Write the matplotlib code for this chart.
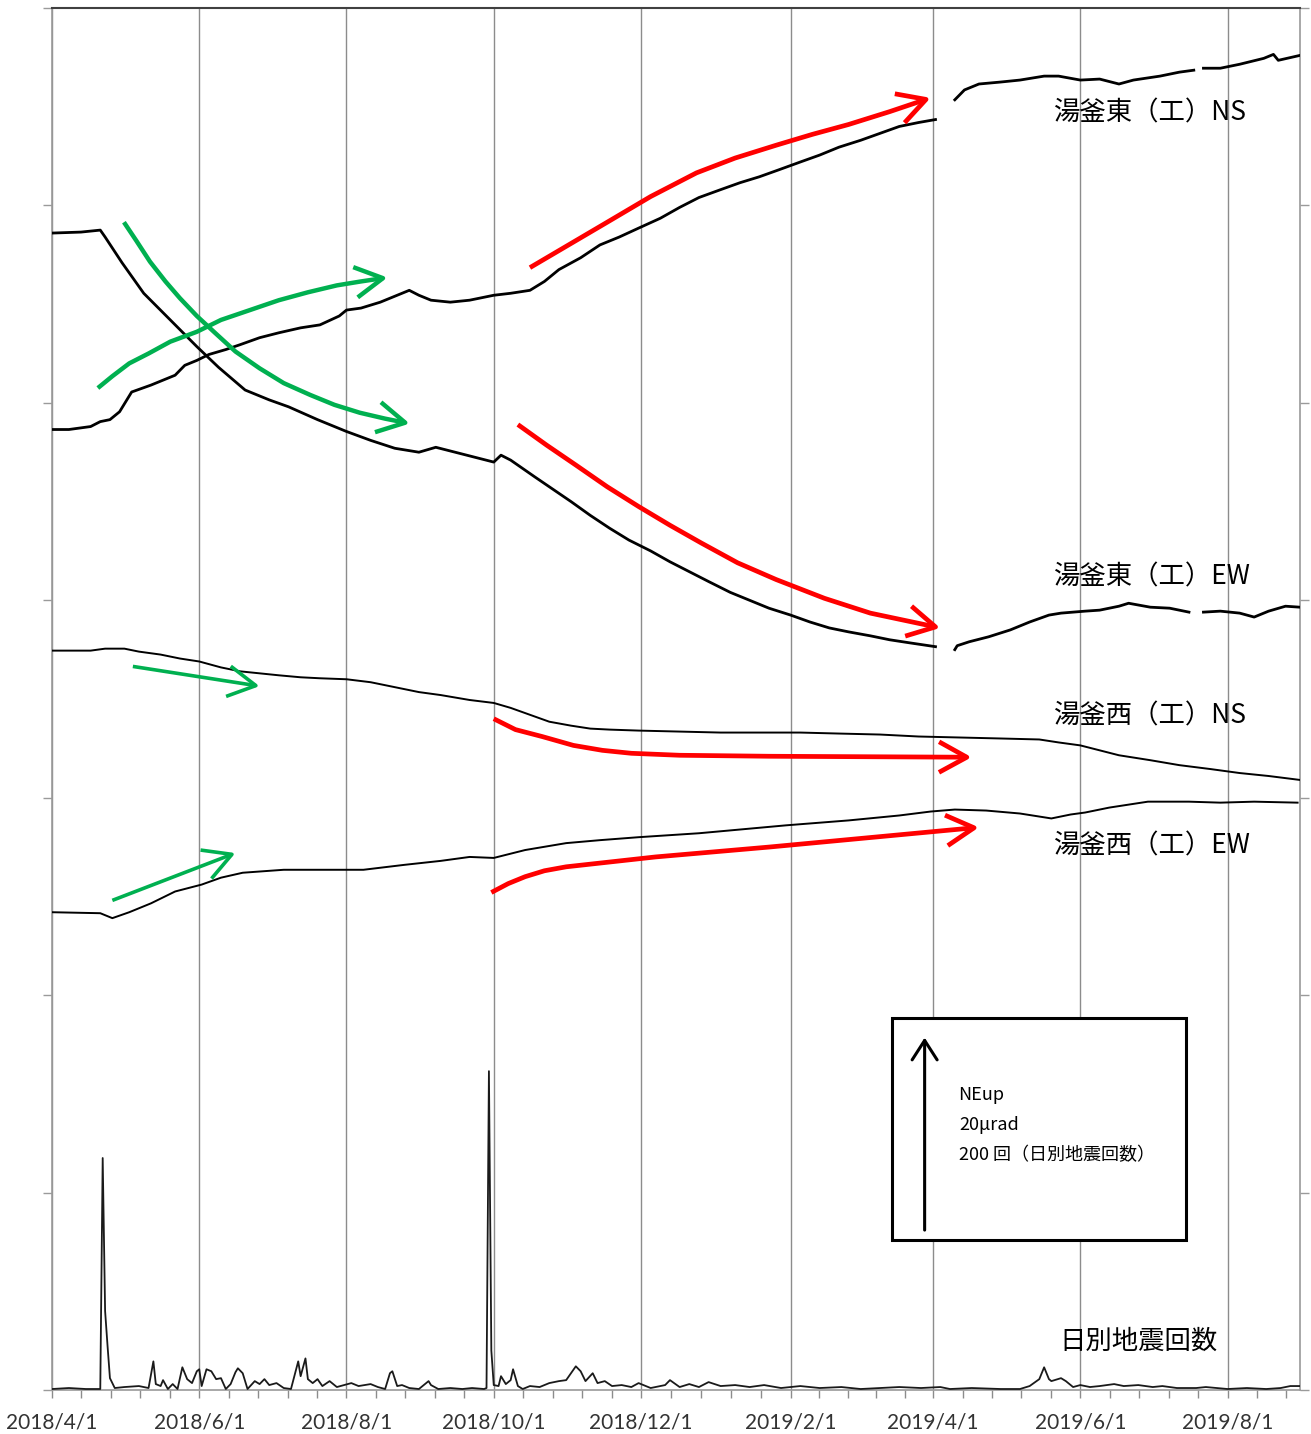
"""
Tilt records at Yugama (east / west stations, NS & EW components) with the
daily earthquake count underneath, April 2018 - August 2019.

Vertical scale: one gridline step = 20 micro-rad = 200 earthquakes / day.
Traces carry arbitrary offsets so they stack on one panel.
"""

import datetime as dt

import numpy as np
import matplotlib
matplotlib.use("Agg")
import matplotlib.pyplot as plt
import matplotlib.dates as mdates
from matplotlib.patches import Rectangle, FancyArrowPatch
from matplotlib.path import Path

plt.rcParams["font.family"] = ["Noto Sans CJK JP", "DejaVu Sans"]

START = dt.datetime(2018, 4, 1)
END = dt.datetime(2019, 8, 31)
NAN = np.nan

RED = "#ff0000"
GREEN = "#00b050"

# ──────────────────────────────────────────────────────────────────
# Data  (x = days since 2018/4/1, y = tilt in micro-rad, offset)
# ──────────────────────────────────────────────────────────────────

TICK_LABELS = ["2018/4/1", "2018/6/1", "2018/8/1", "2018/10/1", "2018/12/1",
               "2019/2/1", "2019/4/1", "2019/6/1", "2019/8/1"]

EAST_NS_DAYS = [0, 7, 16, 20, 24, 28, 33, 41, 51, 55, 60, 65, 72, 78, 86, 94,
                103, 111, 119, 122, 128, 136, 142, 148, 152, 157, 165, 173, 183,
                190, 198, 204, 210, 219, 227, 235, 243, 252, 260, 268, 277, 285,
                293, 301, 310, 318, 326, 335, 343, 351, 359, 366, 370,
                374, 378, 384, 393, 401, 411, 417, 426, 434, 442, 448, 459, 467,
                473, 475, 477, 484, 492, 502, 506, 508, 517]
EAST_NS_VALS = [97.3, 97.3, 97.6, 98.1, 98.3, 99.1, 101.1, 101.8, 102.8, 103.8,
                104.3, 104.9, 105.4, 105.9, 106.6, 107.1, 107.6, 107.9, 108.8,
                109.4, 109.6, 110.2, 110.8, 111.4, 110.9, 110.4, 110.2, 110.4,
                110.9, 111.1, 111.4, 112.3, 113.5, 114.7, 116.0, 116.8, 117.7,
                118.7, 119.8, 120.8, 121.6, 122.3, 122.9, 123.6, 124.4, 125.1,
                125.9, 126.6, 127.3, 128.0, 128.4, 128.7, NAN,
                130.7, 131.7, 132.3, 132.5, 132.7, 133.1, 133.1, 132.7, 132.8,
                132.3, 132.7, 133.1, 133.5, 133.7, NAN, 133.9, 133.9, 134.3,
                134.9, 135.3, 134.7, 135.2]

EAST_EW_DAYS = [0, 12, 20, 22, 29, 38, 49, 60, 69, 80, 90, 98, 110, 122, 132,
                142, 152, 159, 167, 175, 183, 186, 190, 200, 206, 215, 223, 231,
                239, 248, 256, 264, 272, 281, 289, 297, 306, 314, 322, 330, 339,
                347, 355, 366, 370,
                374, 375, 380, 388, 397, 405, 413, 418, 428, 434, 442, 446, 455,
                463, 471, 475, 477, 484, 492, 498, 504, 511, 517]
EAST_EW_VALS = [117.2, 117.3, 117.5, 116.8, 114.2, 111.1, 108.4, 105.7, 103.6,
                101.3, 100.3, 99.6, 98.3, 97.1, 96.2, 95.4, 95.0, 95.5, 95.0,
                94.5, 94.0, 94.7, 94.2, 92.5, 91.5, 90.0, 88.6, 87.3, 86.1, 85.0,
                83.9, 82.9, 81.9, 80.8, 80.0, 79.2, 78.5, 77.8, 77.2, 76.8, 76.4,
                76.0, 75.7, 75.3, NAN,
                75.0, 75.4, 75.8, 76.3, 77.0, 77.8, 78.5, 78.7, 78.9, 79.0, 79.4,
                79.7, 79.3, 79.2, 78.8, NAN, 78.8, 78.9, 78.7, 78.3, 78.9, 79.4,
                79.3]

WEST_NS_DAYS = [0, 16, 22, 30, 36, 45, 53, 61, 70, 78, 86, 94, 103, 111, 122,
                132, 142, 152, 161, 173, 183, 190, 198, 206, 215, 223, 231, 243,
                260, 277, 310, 326, 343, 359, 376, 393, 409, 417, 426, 434, 442,
                455, 467, 480, 492, 504, 517]
WEST_NS_VALS = [74.9, 74.9, 75.1, 75.1, 74.8, 74.5, 74.1, 73.8, 73.2, 72.8,
                72.6, 72.4, 72.2, 72.1, 72.0, 71.7, 71.2, 70.7, 70.4, 69.9, 69.6,
                69.1, 68.4, 67.7, 67.3, 67.0, 66.9, 66.8, 66.7, 66.6, 66.6, 66.5,
                66.4, 66.2, 66.1, 66.0, 65.9, 65.6, 65.3, 64.8, 64.3, 63.8, 63.3,
                62.9, 62.5, 62.2, 61.8]

WEST_EW_DAYS = [0, 20, 25, 32, 41, 51, 62, 70, 79, 96, 129, 146, 161, 173, 183,
                196, 213, 227, 243, 268, 304, 330, 351, 364, 374, 387, 401, 414,
                422, 428, 438, 454, 471, 484, 498, 516]
WEST_EW_VALS = [48.4, 48.3, 47.8, 48.4, 49.3, 50.5, 51.2, 51.9, 52.4, 52.7,
                52.7, 53.2, 53.6, 54.0, 53.9, 54.7, 55.4, 55.7, 56.0, 56.4, 57.2,
                57.7, 58.2, 58.6, 58.8, 58.7, 58.4, 57.9, 58.3, 58.5, 59.0, 59.6,
                59.6, 59.5, 59.6, 59.5]

# daily earthquake count (events / day)
QUAKE_DAYS = [0, 7, 14, 19, 20, 21, 22, 23, 24, 26, 30, 36, 40, 42, 43, 45, 46,
              48, 50, 52, 54, 56, 58, 60, 61, 62, 64, 66, 68, 70, 72, 74, 76,
              77, 79, 81, 84, 86, 88, 90, 93, 96, 99, 102, 103, 105, 106, 108,
              110, 112, 115, 118, 121, 124, 127, 132, 135, 138, 140, 141, 143,
              145, 148, 152, 156, 157, 160, 165, 170, 174, 179, 180, 181, 182,
              183, 185, 186, 188, 190, 191, 193, 195, 198, 202, 206, 210, 213,
              217, 219, 221, 224, 226, 229, 232, 236, 240, 243, 248, 254, 256,
              260, 264, 268, 272, 277, 283, 289, 295, 302, 310, 318, 327, 335,
              343, 351, 360, 368, 372, 381, 393, 401, 405, 409, 411, 413, 414,
              418, 420, 423, 426, 430, 434, 440, 444, 450, 456, 460, 466, 474,
              478, 487, 495, 503, 509, 513, 517]
QUAKE_COUNTS = [1, 2, 1, 1, 1, 235, 80, 45, 12, 2, 3, 4, 2, 29, 6, 4, 10,
                1, 6, 1, 23, 11, 7, 19, 21, 4, 21, 19, 11, 12, 1, 6, 18,
                22, 17, 1, 9, 6, 11, 5, 7, 2, 1, 29, 14, 32, 11, 7,
                11, 4, 9, 3, 5, 7, 4, 6, 3, 1, 17, 19, 4,
                5, 2, 1, 9, 5, 1, 2, 1, 2, 1, 2, 323, 40,
                5, 4, 14, 6, 10, 21, 4, 1, 4, 3, 7, 9, 10,
                24, 19, 9, 17, 7, 9, 4, 5, 3, 7, 2, 5, 10,
                3, 6, 3, 8, 4, 5, 3, 5, 2, 4, 2, 3, 1,
                2, 3, 2, 3, 1, 2, 1, 1, 4, 11, 23, 11, 9,
                12, 9, 3, 5, 3, 4, 6, 4, 5, 3, 4, 2, 2,
                3, 1, 2, 1, 2, 4, 4]

# hand-drawn trend arrows: (day, value) waypoints, head at the last point
ARROW_GREEN_EAST_NS = [(19, 101.5), (25, 102.7), (32, 104.0), (40, 105.0),
                       (49, 106.2), (60, 107.2), (70, 108.4), (82, 109.4),
                       (94, 110.4), (106, 111.2), (118, 111.9), (128, 112.3),
                       (139, 112.7)]
ARROW_GREEN_EAST_EW = [(29.8, 118.3), (35, 116.4), (40.6, 114.3), (47, 112.3),
                       (53, 110.6), (60, 108.8), (67.5, 107.1), (76, 105.2),
                       (86, 103.5), (96, 102.0), (107, 100.8), (117, 99.8),
                       (127.5, 99.0), (138, 98.4), (148.2, 97.9)]
ARROW_GREEN_WEST_NS = [(33.5, 73.3), (86, 71.3)]
ARROW_GREEN_WEST_EW = [(25, 49.6), (76, 54.4)]
ARROW_RED_EAST_NS = [(198, 113.7), (214, 116.0), (230, 118.3), (248, 120.9),
                     (267, 123.3), (283, 124.8), (300, 126.1), (315, 127.2),
                     (330, 128.2), (347, 129.5), (364, 130.9)]
ARROW_RED_EAST_EW = [(193, 97.8), (205, 95.7), (217, 93.7), (230, 91.5),
                     (243, 89.5), (256, 87.6), (269, 85.8), (284, 83.8),
                     (300, 82.1), (320, 80.2), (339, 78.7), (368, 77.2)]
ARROW_RED_WEST_NS = [(183, 68.0), (192, 66.9), (203, 66.2), (216, 65.3),
                     (228, 64.8), (240, 64.5), (260, 64.3), (297, 64.2),
                     (381, 64.1)]
ARROW_RED_WEST_EW = [(182, 50.4), (189, 51.3), (196, 52.0), (204, 52.6),
                     (213, 53.0), (250, 54.0), (297, 55.0), (384, 57.0)]

SCALE_ARROW_DAY = 361.5
SCALE_ARROW = (16.2, 35.7)   # 20 micro-rad / 200 events


# ──────────────────────────────────────────────────────────────────
# Helpers
# ──────────────────────────────────────────────────────────────────

T0 = mdates.date2num(START)


def to_num(days):
    return T0 + np.asarray(days, dtype=float)


def hand_arrow(ax, pts, color, lw):
    xy = [(T0 + d, v) for d, v in pts]
    path = Path(xy, [Path.MOVETO] + [Path.LINETO] * (len(xy) - 1))
    arrow = FancyArrowPatch(path=path, arrowstyle="->,head_length=1.0,head_width=0.55",
                            mutation_scale=20, color=color, lw=lw,
                            joinstyle="round", capstyle="butt", zorder=5)
    ax.add_patch(arrow)


# ──────────────────────────────────────────────────────────────────
# Figure
# ──────────────────────────────────────────────────────────────────

fig = plt.figure(figsize=(13.11, 14.34), dpi=100)
ax = fig.add_axes([52 / 1311, 44 / 1434, 1248 / 1311, 1382 / 1434])

ax.plot(to_num(EAST_NS_DAYS), EAST_NS_VALS, color="black", lw=2.0, zorder=3)
ax.plot(to_num(EAST_EW_DAYS), EAST_EW_VALS, color="black", lw=2.0, zorder=3)
ax.plot(to_num(WEST_NS_DAYS), WEST_NS_VALS, color="black", lw=1.4, zorder=3)
ax.plot(to_num(WEST_EW_DAYS), WEST_EW_VALS, color="black", lw=1.4, zorder=3)
ax.plot(to_num(QUAKE_DAYS), np.array(QUAKE_COUNTS) / 10.0, color="#1a1a1a",
        lw=1.3, zorder=3)

for pts in (ARROW_GREEN_EAST_NS, ARROW_GREEN_EAST_EW):
    hand_arrow(ax, pts, GREEN, 3.2)
for pts in (ARROW_GREEN_WEST_NS, ARROW_GREEN_WEST_EW):
    hand_arrow(ax, pts, GREEN, 2.6)
for pts in (ARROW_RED_EAST_NS, ARROW_RED_EAST_EW, ARROW_RED_WEST_NS, ARROW_RED_WEST_EW):
    hand_arrow(ax, pts, RED, 3.4)

# axes limits, ticks and grid
ax.set_xlim(T0, mdates.date2num(END))
ax.set_ylim(0, 140)

major = [mdates.date2num(dt.datetime.strptime(s, "%Y/%m/%d")) for s in TICK_LABELS]
step = (major[-1] - major[-2]) / 5
minor = []
for a, b in zip(major[:-1], major[1:]):
    minor += list(np.linspace(a, b, 6)[1:-1])
m = major[-1] + step
while m <= mdates.date2num(END):
    minor.append(m)
    m += step

ax.set_xticks(major)
ax.set_xticklabels(TICK_LABELS, fontfamily="Lato", fontsize=15, color="#333333")
ax.set_xticks(minor, minor=True)
ax.tick_params(axis="x", which="both", direction="out", length=6, width=1,
               color="#8c8c8c", pad=10)
ax.grid(axis="x", which="major", color="#8c8c8c", lw=1.0, zorder=0)

ax.set_yticks(np.arange(0, 141, 20))
ax.tick_params(axis="y", which="both", left=True, right=True, direction="out",
               length=6.5, width=1, color="#9a9a9a", labelleft=False)

for side in ("left", "right", "bottom"):
    ax.spines[side].set_color("#9a9a9a")
    ax.spines[side].set_linewidth(1.2)
ax.spines["top"].set_color("#404040")
ax.spines["top"].set_linewidth(1.5)

# station labels
label_kw = dict(transform=ax.transAxes, fontsize=19, ha="left", va="center", zorder=6)
ax.text(0.803, 0.924, "湯釜東（工）NS", **label_kw)
ax.text(0.803, 0.588, "湯釜東（工）EW", **label_kw)
ax.text(0.803, 0.488, "湯釜西（工）NS", **label_kw)
ax.text(0.803, 0.394, "湯釜西（工）EW", **label_kw)
ax.text(0.807, 0.035, "日別地震回数", **label_kw)

# scale box
ax.add_patch(Rectangle((0.673, 0.1085), 0.236, 0.1605, transform=ax.transAxes,
                       facecolor="white", edgecolor="black", lw=2.2, zorder=7))
x_scale = T0 + SCALE_ARROW_DAY
ax.annotate("", xy=(x_scale, SCALE_ARROW[1]), xytext=(x_scale, SCALE_ARROW[0]),
            arrowprops=dict(arrowstyle="->,head_length=0.7,head_width=0.45",
                            mutation_scale=20, color="black", lw=2.2,
                            shrinkA=0, shrinkB=0), zorder=8)
box_kw = dict(transform=ax.transAxes, fontsize=13, ha="left", va="center", zorder=8)
ax.text(0.726, 0.2135, "NEup", **box_kw)
ax.text(0.727, 0.1918, "20μrad", **box_kw)
ax.text(0.727, 0.1700, "200 回（日別地震回数）", **box_kw)

fig.savefig("out.png", dpi=100)
plt.close(fig)
